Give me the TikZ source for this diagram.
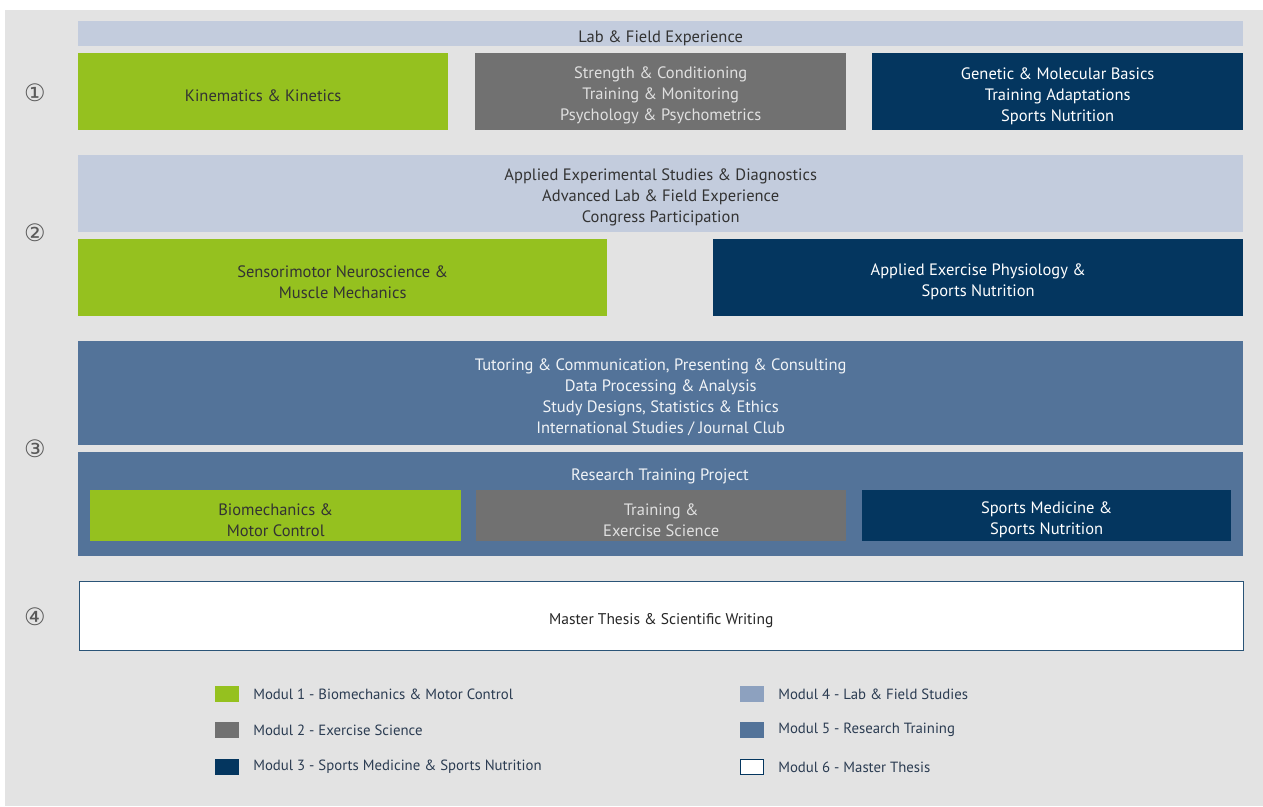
\documentclass[tikz,border=0pt]{standalone}
\usepackage{fontspec}
\setmainfont{PT Sans}
\newfontfamily\circfont{DejaVu Sans}
\definecolor{ggreen}{HTML}{95C11F}
\definecolor{ggrey}{HTML}{717171}
\definecolor{nnavy}{HTML}{04365F}
\definecolor{llight}{HTML}{C3CCDD}
\definecolor{bblue}{HTML}{537399}
\definecolor{mblue}{HTML}{8DA1BF}
\definecolor{bgrey}{HTML}{E3E3E3}
\definecolor{ttext}{HTML}{2B3C52}
\newcommand{\bstrut}{\rule{0pt}{20pt}}
\usetikzlibrary{positioning}

\begin{document}
\begin{tikzpicture}[
    	x=1pt, y=-1pt,
    	box/.style={anchor=north west, inner sep=0pt, align=center, font=\fontsize{16.5}{21}\selectfont},
    	greenbox/.style={box, fill=ggreen, text=black!80},
    	greybox/.style={box, fill=ggrey, text=white!88!black},
    	navybox/.style={box, fill=nnavy, text=white},
    	lightbox/.style={box, fill=llight, text=black!80},
    	bluebox/.style={box, fill=bblue, text=white!92!bblue},
    	stepnum/.style={font=\circfont\fontsize{24}{24}\selectfont, text=black!65},
    	legsq/.style={minimum width=23pt, minimum height=15pt, inner sep=0pt},
    	legtxt/.style={inner sep=0pt, anchor=west, text=ttext, font=\fontsize{14.8}{16}\selectfont},
    ]
    \useasboundingbox (0,0) rectangle (1263,806);
    \fill[bgrey] (5,10) rectangle (1263,806);
    % step numbers
    \foreach \n/\y/\s in {1/93/①, 2/233/②, 3/449/③, 4/617/④}
    \node[stepnum] (num\n) at (35,\y) {\s};
    % year 1
    \node[lightbox, minimum width=1165pt, minimum height=25pt] (labfield) at (78,21) {\bstrut Lab \& Field Experience};
    \node[greenbox, minimum width=370pt, minimum height=77pt] (kin) at (78,53) {\bstrut Kinematics \& Kinetics};
    \node[greybox, minimum width=371pt, minimum height=77pt] (strength) at (475,53) {\bstrut Strength \& Conditioning\\Training \& Monitoring\\Psychology \& Psychometrics};
    \node[navybox, minimum width=371pt, minimum height=77pt] (genetic) at (872,53) {\bstrut Genetic \& Molecular Basics\\Training Adaptations\\Sports Nutrition};
    % year 2
    \node[lightbox, minimum width=1165pt, minimum height=77pt] (applied) at (78,155) {\bstrut Applied Experimental Studies \& Diagnostics\\Advanced Lab \& Field Experience\\Congress Participation};
    \node[greenbox, minimum width=529pt, minimum height=77pt] (sensori) at (78,239) {\bstrut Sensorimotor Neuroscience \&\\Muscle Mechanics};
    \node[navybox, minimum width=530pt, minimum height=77pt] (physio) at (713,239) {\bstrut Applied Exercise Physiology \&\\Sports Nutrition};
    % year 3
    \node[bluebox, minimum width=1165pt, minimum height=104pt] (tutoring) at (78,341) {\bstrut Tutoring \& Communication, Presenting \& Consulting\\Data Processing \& Analysis\\Study Designs, Statistics \& Ethics\\International Studies / Journal Club};
    \node[bluebox, minimum width=1165pt, minimum height=104pt] (rtp) at (78,452) {};
    \node[font=\fontsize{16.5}{21}\selectfont, text=white!92!bblue, inner sep=0pt] (rtptitle) at (660,476) {Research Training Project};
    \node[greenbox, minimum width=371pt, minimum height=51pt] (biomech) at (90,490) {\bstrut Biomechanics \&\\Motor Control};
    \node[greybox, minimum width=370pt, minimum height=51pt] (training) at (476,490) {\bstrut Training \&\\Exercise Science};
    \node[navybox, minimum width=369pt, minimum height=51pt] (sportsmed) at (862,490) {\bstrut Sports Medicine \&\\Sports Nutrition};
    % year 4
    \node[box, fill=white, draw=nnavy!85, line width=1.5pt, minimum width=1164pt, minimum height=69pt, text=black!85, font=\fontsize{15.5}{18}\selectfont] (thesis) at (78.5,580.5) {\bstrut Master Thesis \& Scientific Writing};
    % legend
    \foreach \i/\x/\y/\f/\d/\t in {1/227/694/ggreen/ggreen/Modul 1 - Biomechanics \& Motor Control,
                                   2/227/730/ggrey/ggrey/Modul 2 - Exercise Science,
                                   3/227/767/nnavy/nnavy/Modul 3 - Sports Medicine \& Sports Nutrition,
                                   4/752/694/mblue/mblue/Modul 4 - Lab \& Field Studies,
                                   5/752/730/bblue/bblue/Modul 5 - Research Training,
                                   6/752/767/white/nnavy/Modul 6 - Master Thesis}
    {
    \node[legsq, fill=\f, draw=\d, line width=1.2pt] (sq\i) at (\x,\y) {};
    \node[legtxt, right=14pt of sq\i] (leg\i) {\t};
    }
\end{tikzpicture}
\end{document}
